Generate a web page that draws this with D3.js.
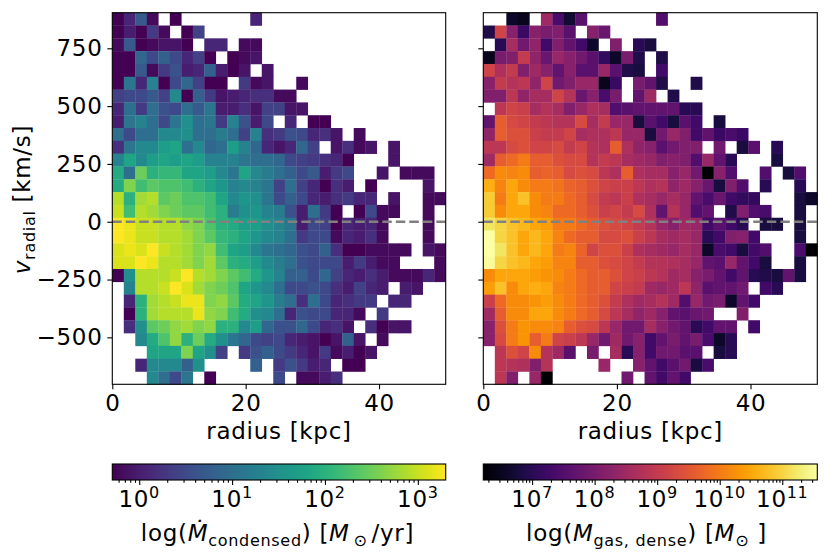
<!DOCTYPE html>
<html>
<head>
<meta charset="utf-8">
<script src="https://cdn.jsdelivr.net/npm/d3@7"></script>
<style>
body { margin: 0; background: #fff; }
text { font-family: "DejaVu Sans", sans-serif; fill: #000; letter-spacing: 0.7px; }
</style>
</head>
<body>
<div id="svg-container"></div>
<script>
const _ = null;

// histogram binning, 29 x 29 bins
let radiusRange = [0, 50];
let vRange = [-703, 904];
let nBins = 29;
let rTicks = [0, 20, 40];
let vTicks = [-500, -250, 0, 250, 500, 750];

// colour limits (log10) and colourbar decades
let condensedLim = [-0.29, 3.30];
let denseLim = [6.22, 11.56];
let condensedDecades = [0, 1, 2, 3];
let denseDecades = [7, 8, 9, 10, 11];

// log10 Mdot_condensed [Msun/yr], one row per v bin, top (high v) first, one entry per radius bin
let condensedRows = [
  [-0.3,0.1,0.7,-0.2,_,-0.3,_,_,_,_,_,_,0.1],
  [-0.3,0.0,-0.3,0.3,-0.2,_,-0.3,0.4],
  [-0.2,0.7,-0.3,-0.2,-0.1,-0.1,-0.3,_,0.1,0.1,_,-0.2,-0.2],
  [-0.3,-0.3,0.9,0.5,0.8,0.5,0.1,0.4,-0.3,_,-0.3,-0.2,-0.1],
  [-0.3,-0.3,0.7,-0.2,0.3,0.6,0.0,0.1,0.8,0.0,-0.3,-0.1,_,-0.1],
  [-0.3,1.1,0.1,1.3,-0.3,0.5,0.9,0.4,-0.3,-0.3,_,0.3,-0.2,-0.1,_,_,-0.2],
  [0.4,0.5,0.5,0.7,0.4,1.4,-0.3,0.8,0.3,-0.1,0.0,0.1,0.2,0.2,-0.2,-0.2],
  [0.1,1.0,0.3,1.0,0.6,0.5,1.0,0.7,1.1,0.0,0.0,0.2,-0.1,0.4,0.4,-0.1,-0.1],
  [0.0,1.1,1.3,1.0,0.5,1.1,1.5,1.0,1.1,0.3,1.3,0.6,0.0,0.5,_,0.1,_,-0.3,-0.3],
  [1.0,0.5,1.0,1.0,1.4,1.4,1.5,1.0,1.0,1.2,1.0,0.4,1.3,0.2,0.3,0.6,0.5,0.1,0.2,-0.1,_,-0.2],
  [0.2,1.1,1.4,1.4,1.7,1.8,1.0,1.4,0.9,1.0,1.7,1.3,0.9,0.1,-0.1,0.1,0.9,0.4,_,-0.1,0.2,-0.2,-0.1,_,-0.1],
  [1.3,1.8,1.4,1.7,1.8,1.7,1.8,1.7,1.3,1.3,1.3,1.1,1.0,1.0,0.9,0.5,0.4,0.3,0.2,0.1,-0.3,_,_,_,-0.1],
  [1.9,1.0,2.5,2.0,2.1,2.1,1.8,1.8,1.7,1.4,1.1,1.8,1.4,1.2,1.0,0.8,0.5,0.7,0.0,0.3,0.5,_,_,-0.1,_,-0.2,-0.2,-0.2],
  [1.9,2.6,2.2,2.4,2.3,2.3,2.2,2.0,1.8,1.6,1.3,1.4,1.3,1.1,0.4,1.0,0.4,0.1,-0.3,0.2,0.0,_,-0.3,_,_,_,_,-0.1],
  [2.9,2.0,2.8,2.9,2.4,2.5,2.3,2.3,2.2,1.8,1.4,1.6,1.5,1.1,0.5,0.8,0.5,0.1,0.0,0.2,0.3,0.1,0.1,_,-0.1,_,_,-0.2,-0.2],
  [3.0,2.2,2.9,2.8,2.6,2.5,2.4,2.4,2.2,2.0,1.2,1.5,1.6,1.3,1.2,0.6,0.0,1.0,0.3,-0.3,_,-0.3,0.5,-0.2,-0.2,_,_,-0.2],
  [3.3,3.2,3.0,3.0,2.9,2.9,2.7,2.6,2.3,2.0,1.9,1.7,1.7,1.5,1.3,1.1,0.0,0.5,0.4,-0.3,0.1,0.0,0.1,-0.2,_,_,_,-0.2],
  [3.3,3.2,3.0,3.0,2.9,2.9,2.8,2.6,2.4,2.1,2.0,1.8,1.6,1.4,1.3,1.0,0.3,0.5,0.5,-0.2,0.1,0.0,0.2,-0.2,_,_,_,-0.2],
  [3.1,3.2,3.1,3.3,3.0,2.9,2.8,2.6,2.7,2.2,1.8,1.7,1.4,1.1,1.0,0.9,0.6,0.5,0.8,0.2,-0.3,-0.3,-0.2,-0.2,-0.2,-0.2,_,-0.1,-0.2],
  [3.1,3.1,3.3,3.2,2.9,2.9,2.8,2.6,2.8,2.4,2.0,1.9,1.7,1.4,1.2,1.0,0.6,0.5,0.5,0.5,0.0,0.3,0.0,-0.2,-0.2,_,_,_,-0.2],
  [-0.3,1.5,2.9,2.9,2.9,3.0,3.3,2.9,2.8,2.6,2.4,2.2,1.9,1.6,1.3,0.8,0.8,0.5,0.9,0.4,0.1,0.0,0.2,0.0,-0.2,-0.2,-0.2,0.1,-0.2],
  [_,1.3,2.9,2.9,3.0,3.3,3.1,2.8,2.6,2.5,2.3,1.8,1.6,1.4,1.0,0.5,0.5,0.6,0.5,0.2,0.0,0.4,0.1,0.0,_,0.0,-0.1],
  [_,0.1,2.0,2.8,2.9,3.0,3.2,3.2,2.6,2.7,2.4,1.9,1.8,1.6,1.2,1.0,0.2,1.0,0.5,0.1,0.2,0.3,0.3,_,0.1,0.1],
  [_,-0.3,2.0,2.8,2.9,2.9,2.9,3.2,2.7,2.6,2.2,1.9,1.5,1.4,1.0,0.1,0.6,0.5,0.5,0.1,0.1,-0.2,_,0.3],
  [_,0.2,1.5,2.4,2.5,2.7,2.8,2.6,2.7,2.0,2.0,1.4,1.7,0.9,0.6,0.6,0.9,0.5,0.1,0.2,-0.1,_,0.2,-0.3,-0.1,-0.1],
  [_,_,1.4,1.9,2.3,2.7,2.0,2.5,1.9,1.5,1.1,0.9,0.5,0.4,0.5,0.1,0.0,-0.1,-0.3,-0.1,0.8,-0.1,_,-0.2],
  [_,_,_,1.8,1.8,1.8,2.6,1.8,1.5,0.4,_,0.3,0.6,0.8,0.5,0.3,0.1,-0.1,0.3,-0.2,0.0,-0.3,-0.1],
  [_,_,0.1,1.4,1.4,1.4,0.8,1.5,_,_,_,_,0.8,_,0.3,0.6,0.3,0.0,0.1,_,-0.3,-0.3],
  [_,_,_,1.4,1.0,0.5,1.1,_,-0.3,_,_,_,_,_,0.5,_,-0.2,-0.2,0.0,0.2]
];

// log10 M_gas,dense [Msun], same layout
let denseRows = [
  [_,_,6.6,6.5,_,8.5,7.4,6.7,7.6,_,_,_,_,_,_,7.5],
  [6.9,9.2,8.2,7.2,8.2,8.0,8.1,7.6,_,8.2,7.8],
  [_,7.0,8.6,7.9,8.3,7.3,8.1,7.7,7.3,6.6,_,8.1,_,7.0,6.8],
  [6.5,8.0,8.1,9.0,8.3,7.8,8.4,8.2,7.9,7.6,7.1,6.6,8.0,6.9,_,6.9],
  [9.2,8.7,9.0,8.1,8.5,8.2,7.7,8.2,7.6,7.6,8.4,7.6,6.9,6.8,_,7.3],
  [8.2,9.0,8.8,8.9,8.3,9.2,7.9,8.1,8.4,8.4,6.5,7.2,_,8.0,7.7,6.9,_,_,6.9],
  [8.1,8.1,8.9,8.3,8.6,8.6,9.2,8.8,7.8,8.2,7.4,8.0,_,7.7,8.5,_,6.9],
  [_,8.9,9.2,9.1,8.6,8.8,8.6,8.1,8.4,8.7,8.6,7.5,7.6,7.7,7.7,7.7,7.7,7.0,7.0],
  [7.7,9.6,9.3,9.2,9.0,8.9,8.8,8.8,9.3,8.6,9.0,8.4,8.4,6.8,7.6,7.3,6.8,7.6,7.3,_,6.8],
  [8.3,9.6,9.4,9.4,9.1,9.0,9.0,9.2,8.6,8.7,8.7,8.9,8.4,8.4,6.8,7.9,8.4,8.1,7.3,7.7,7.2,7.4,7.2],
  [8.9,8.9,9.3,9.4,9.2,9.2,9.3,9.0,9.2,8.8,8.7,9.6,8.7,8.3,8.2,7.6,7.9,8.1,8.1,_,7.9,_,6.8,7.6,_,7.0],
  [8.5,9.6,9.8,10.0,9.6,9.6,9.4,9.3,9.3,8.8,9.0,8.9,8.6,8.5,8.4,8.1,8.2,8.1,7.5,8.4,7.7,7.0,_,_,_,6.8],
  [9.8,10.2,10.1,10.2,9.6,9.7,9.6,9.3,9.4,9.3,8.9,8.7,9.6,8.7,8.6,8.6,8.2,8.4,7.9,6.2,8.2,7.5,_,_,7.5,_,6.8,7.5],
  [10.6,10.1,10.5,10.2,10.0,10.0,9.9,9.7,9.6,9.4,9.2,9.1,9.1,8.9,8.7,8.8,8.3,8.5,8.2,7.8,6.8,8.1,7.5,_,7.0,_,_,7.0],
  [10.9,10.0,10.5,10.8,10.2,10.0,10.0,9.8,9.6,9.3,9.0,8.9,9.1,8.7,8.6,8.4,8.6,8.4,7.7,7.4,7.8,7.3,7.1,7.1,_,_,_,6.8,6.6],
  [10.9,10.2,10.5,10.5,10.2,10.1,9.8,9.8,9.6,9.4,9.1,9.2,9.0,9.3,8.7,7.7,8.8,8.4,7.5,7.7,_,6.9,8.1,7.5,7.4,_,_,6.8],
  [11.2,11.0,10.8,10.7,10.5,10.4,10.0,10.0,9.8,9.6,9.4,9.3,9.2,9.0,8.8,8.4,8.2,8.5,8.4,7.3,7.6,7.3,7.0,_,6.8,6.8,_,6.8],
  [11.6,11.0,10.8,10.5,10.7,10.5,10.1,9.8,9.6,9.6,9.3,9.3,9.4,9.1,8.9,8.6,8.5,8.6,8.4,7.0,7.3,8.1,8.2,7.3,_,_,_,6.8],
  [11.6,11.2,10.8,10.5,10.7,10.5,10.0,10.1,9.7,9.2,9.4,9.4,9.1,8.7,8.6,8.5,8.4,8.6,8.4,6.6,7.4,7.3,6.8,7.3,7.5,_,_,7.4,6.2],
  [11.5,11.0,10.8,10.7,10.5,10.4,10.1,10.1,9.6,9.6,9.4,9.3,9.2,9.0,8.8,8.8,8.7,8.6,8.4,7.7,7.6,8.4,7.7,7.3,6.8,_,_,6.8],
  [10.2,10.5,10.5,10.5,10.4,10.3,10.2,10.0,9.8,9.6,9.6,9.4,9.2,9.1,8.9,8.8,8.5,8.6,8.2,8.0,7.7,7.3,7.7,7.0,6.9,6.8,7.7,6.8],
  [10.4,10.8,10.2,10.5,10.6,10.5,10.1,10.0,9.8,9.6,9.6,9.2,9.1,9.0,8.5,8.4,8.5,8.9,8.3,7.6,7.7,7.7,7.9,_,7.3,7.0],
  [9.1,9.8,10.2,10.2,10.3,10.4,10.2,10.0,9.8,9.6,9.4,9.0,8.7,8.5,8.6,8.8,8.5,7.5,8.4,7.9,8.0,6.6,7.7,7.3],
  [8.5,9.6,10.2,10.2,10.5,10.5,10.2,10.0,9.8,9.6,9.3,8.9,8.6,8.3,8.5,8.2,7.7,7.6,7.8,7.9,_,_,8.1],
  [8.2,9.4,10.0,10.3,10.2,10.2,10.1,9.6,9.4,9.3,8.9,8.4,7.9,7.9,8.6,8.2,7.9,7.7,7.0,7.3,7.7,7.7,_,7.3],
  [8.2,9.3,10.0,10.3,9.6,10.0,9.2,9.1,8.9,8.4,7.9,8.5,7.9,8.2,7.3,7.7,8.0,7.7,8.0,7.4,6.6,7.0],
  [_,8.9,9.4,9.2,10.2,8.8,8.5,7.6,_,8.0,_,8.6,7.0,8.2,7.3,7.9,7.9,7.6,7.6,_,6.8,7.0],
  [_,8.9,8.8,8.7,8.1,8.8,_,_,_,_,8.4,_,_,8.2,7.7,7.3,7.6,7.9,6.8,7.4],
  [_,8.9,8.1,_,8.4,6.2,_,_,_,_,_,_,7.9,_,7.7,7.3,7.7,7.3]
];

let w = 830;
let h = 559;
let fs = 23;
let fsSmall = 16;
let plotTop = 12.7;
let plotBottom = 384.3;
let cbTop = 464;
let cbBottom = 480;

let svg = d3.select('#svg-container').
append('svg').
attr('width', w).
attr('height', h);

let y = d3.scaleLinear().domain(vRange).range([plotBottom, plotTop]);
// bin index -> data edge
let rEdge = d3.scaleLinear().domain([0, nBins]).range(radiusRange);
let vEdge = d3.scaleLinear().domain([0, nBins]).range([vRange[1], vRange[0]]);

function styleAxis(g) {
  g.attr('font-size', fs).attr('font-family', 'DejaVu Sans');
  g.select('.domain').remove();
  g.selectAll('.tick line').attr('stroke', '#000').attr('stroke-width', 1.1);
  g.selectAll('.tick text').attr('fill', '#000');
}

function drawPanel(x0, x1, rows, color, yLabels) {
  let x = d3.scaleLinear().domain(radiusRange).range([x0, x1]);

  let cells = [];
  rows.forEach((row, i) => row.forEach((v, j) => {
    if (v !== null) cells.push({ i: i, j: j, v: v });
  }));

  svg.append('g').selectAll('rect').
  data(cells).
  enter().
  append('rect').
  attr('x', d => x(rEdge(d.j))).
  attr('y', d => y(vEdge(d.i))).
  attr('width', d => x(rEdge(d.j + 1)) - x(rEdge(d.j)) + 0.3).
  attr('height', d => y(vEdge(d.i + 1)) - y(vEdge(d.i)) + 0.3).
  attr('fill', d => color(d.v));

  // zero-velocity line
  svg.append('line').
  attr('x1', x0).attr('x2', x1).
  attr('y1', y(0)).attr('y2', y(0)).
  attr('stroke', '#808080').
  attr('stroke-width', 2.6).
  attr('stroke-dasharray', '9.5,4');

  svg.append('rect').
  attr('x', x0).attr('y', plotTop).
  attr('width', x1 - x0).attr('height', plotBottom - plotTop).
  attr('fill', 'none').
  attr('stroke', '#000').
  attr('stroke-width', 1.1);

  let xAxis = svg.append('g').
  attr('transform', 'translate(0,' + plotBottom + ')').
  call(d3.axisBottom(x).tickValues(rTicks).tickSize(5).tickPadding(5.5));
  styleAxis(xAxis);

  let yAxis = d3.axisLeft(y).tickValues(vTicks).tickSize(5).tickPadding(4.8);
  if (!yLabels) yAxis.tickFormat('');
  let yG = svg.append('g').
  attr('transform', 'translate(' + x0 + ',0)').
  call(yAxis);
  styleAxis(yG);

  svg.append('text').
  attr('x', (x0 + x1) / 2).
  attr('y', 439).
  attr('text-anchor', 'middle').
  attr('font-size', fs).
  text('radius [kpc]');
}

function drawColorbar(x0, x1, lim, interp, decades, id) {
  let grad = svg.append('defs').append('linearGradient').attr('id', id);
  d3.range(0, 1.0001, 0.05).forEach(t => {
    grad.append('stop').attr('offset', t).attr('stop-color', interp(t));
  });
  svg.append('rect').
  attr('x', x0).attr('y', cbTop).
  attr('width', x1 - x0).attr('height', cbBottom - cbTop).
  attr('fill', 'url(#' + id + ')').
  attr('stroke', '#000').
  attr('stroke-width', 1.1);

  let s = d3.scaleLog().domain([Math.pow(10, lim[0]), Math.pow(10, lim[1])]).range([x0, x1]);
  let majors = decades.map(k => Math.pow(10, k));
  let minors = s.ticks().filter(v => Math.abs(Math.log10(v) - Math.round(Math.log10(v))) > 1e-6);

  let minG = svg.append('g').
  attr('transform', 'translate(0,' + cbBottom + ')').
  call(d3.axisBottom(s).tickValues(minors).tickSize(2.8).tickFormat(''));
  styleAxis(minG);
  let majG = svg.append('g').
  attr('transform', 'translate(0,' + cbBottom + ')').
  call(d3.axisBottom(s).tickValues(majors).tickSize(4.9).tickFormat(''));
  styleAxis(majG);

  let labels = svg.append('g').selectAll('text').
  data(decades).
  enter().
  append('text').
  attr('x', k => s(Math.pow(10, k))).
  attr('y', 507).
  attr('text-anchor', 'middle').
  attr('font-size', fs);
  labels.append('tspan').text('10');
  labels.append('tspan').attr('font-size', fsSmall).attr('dy', -9).text(k => k);
}

let condensedColor = d3.scaleSequential(d3.interpolateViridis).domain(condensedLim).clamp(true);
let denseColor = d3.scaleSequential(d3.interpolateInferno).domain(denseLim).clamp(true);

drawPanel(112.3, 445.7, condensedRows, condensedColor, true);
drawPanel(483.3, 817.3, denseRows, denseColor, false);

drawColorbar(112.3, 445.7, condensedLim, d3.interpolateViridis, condensedDecades, 'gradCond');
drawColorbar(483.3, 817.3, denseLim, d3.interpolateInferno, denseDecades, 'gradDense');

// y label
let yl = svg.append('text').
attr('transform', 'translate(30,199.5) rotate(-90)').
attr('text-anchor', 'middle').
attr('font-size', fs);
yl.append('tspan').attr('font-style', 'italic').text('v');
yl.append('tspan').attr('font-size', fsSmall).attr('dy', 4.5).text('radial');
yl.append('tspan').attr('dy', -4.5).text(' [km/s]');

// colourbar labels
let cl = svg.append('text').
attr('x', 277.5).attr('y', 541).
attr('text-anchor', 'middle').
attr('font-size', fs);
cl.append('tspan').text('log(');
cl.append('tspan').attr('font-style', 'italic').text('M\u0307');
cl.append('tspan').attr('font-size', fsSmall).attr('dy', 4.5).text('condensed');
cl.append('tspan').attr('dy', -4.5).text(') [');
cl.append('tspan').attr('font-style', 'italic').text('M');
cl.append('tspan').attr('font-size', fsSmall).attr('dy', 4.5).text('\u2009\u2299\u2009');
cl.append('tspan').attr('dy', -4.5).text('/yr]');

let dl = svg.append('text').
attr('x', 646.5).attr('y', 541).
attr('text-anchor', 'middle').
attr('font-size', fs);
dl.append('tspan').text('log(');
dl.append('tspan').attr('font-style', 'italic').text('M');
dl.append('tspan').attr('font-size', fsSmall).attr('dy', 4.5).text('gas, dense');
dl.append('tspan').attr('dy', -4.5).text(') [');
dl.append('tspan').attr('font-style', 'italic').text('M');
dl.append('tspan').attr('font-size', fsSmall).attr('dy', 4.5).text('\u2299');
dl.append('tspan').attr('dy', -4.5).text(' ]');
</script>
</body>
</html>
